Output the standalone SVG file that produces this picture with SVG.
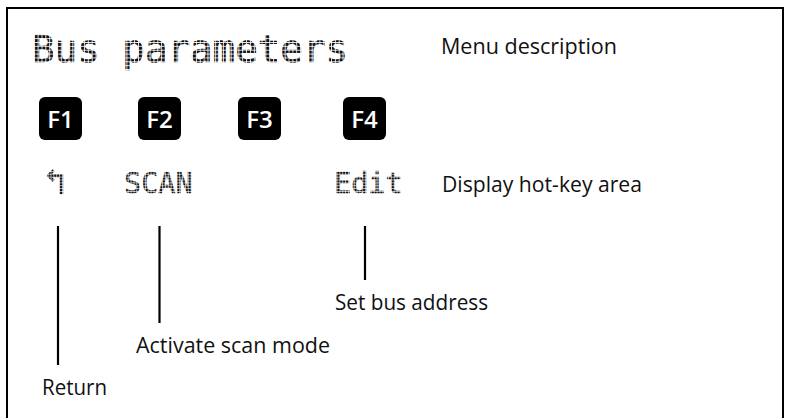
<svg xmlns="http://www.w3.org/2000/svg" width="787" height="418" viewBox="0 0 787 418">
  <defs>
    <pattern id="dotsL" width="3.86" height="3.86" patternUnits="userSpaceOnUse" x="0" y="0.5">
      <rect width="3" height="3" fill="#111"/>
    </pattern>
    <pattern id="dotsS" width="2.86" height="2.86" patternUnits="userSpaceOnUse" x="0" y="0.3">
      <rect width="2.2" height="2.2" fill="#111"/>
    </pattern>
  </defs>
  <style>
    .lcdL { font-family: "DejaVu Sans Mono", "Liberation Mono", monospace; font-size: 37.5px; fill: url(#dotsL); stroke: url(#dotsL); stroke-width: 0.6; }
    .lcdS { font-family: "DejaVu Sans Mono", "Liberation Mono", monospace; font-size: 28.5px; fill: url(#dotsS); stroke: url(#dotsS); stroke-width: 0.5; }
    .lbl { font-family: "Open Sans", "Liberation Sans", sans-serif; font-size: 21.5px; fill: #111; }
    .key rect { fill: #000; }
    .key text { font-family: "Open Sans", "Liberation Sans", sans-serif; font-size: 24px; font-weight: 600; fill: #fff; text-anchor: middle; }
    .conn line { stroke: #000; stroke-width: 2.2; }
  </style>
  <rect x="0" y="0" width="787" height="418" fill="#fff"/>
  <rect id="frame" x="7" y="8" width="776" height="414" fill="none" stroke="#000" stroke-width="2"/>

  <g id="title">
    <text class="lcdL" x="32" y="62">Bus parameters</text>
  </g>
  <g id="menu-description">
    <text class="lbl" x="441" y="54" textLength="176" lengthAdjust="spacingAndGlyphs">Menu description</text>
  </g>

  <g id="key-f1" class="key"><rect x="39" y="97" width="43" height="43" rx="6"/><text x="60.5" y="127.5">F1</text></g>
  <g id="key-f2" class="key"><rect x="138" y="97" width="43" height="43" rx="6"/><text x="159.5" y="127.5">F2</text></g>
  <g id="key-f3" class="key"><rect x="238" y="97" width="43" height="43" rx="6"/><text x="259.5" y="127.5">F3</text></g>
  <g id="key-f4" class="key"><rect x="343" y="97" width="43" height="43" rx="6"/><text x="364.5" y="127.5">F4</text></g>

  <g id="hotkey-return"><text class="lcdS" x="44" y="194" style="font-size:36px">↰</text></g>
  <g id="hotkey-scan"><text class="lcdS" x="124" y="193">SCAN</text></g>
  <g id="hotkey-edit"><text class="lcdS" x="334" y="193">Edit</text></g>
  <g id="hotkey-area-label">
    <text class="lbl" x="442" y="192" textLength="200" lengthAdjust="spacingAndGlyphs">Display hot-key area</text>
  </g>

  <g id="connectors" class="conn">
    <line x1="58" y1="226" x2="58" y2="365"/>
    <line x1="159.5" y1="226" x2="159.5" y2="323"/>
    <line x1="365" y1="226" x2="365" y2="280"/>
  </g>

  <g id="label-set-bus"><text class="lbl" x="335" y="310" textLength="153" lengthAdjust="spacingAndGlyphs">Set bus address</text></g>
  <g id="label-scan"><text class="lbl" x="136" y="353" textLength="194" lengthAdjust="spacingAndGlyphs">Activate scan mode</text></g>
  <g id="label-return"><text class="lbl" x="42" y="395" textLength="65" lengthAdjust="spacingAndGlyphs">Return</text></g>
</svg>
